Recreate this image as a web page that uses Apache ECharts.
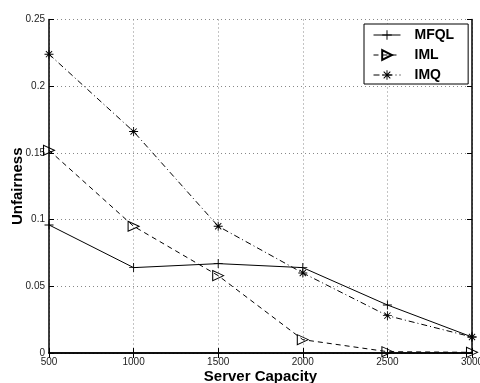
<!DOCTYPE html>
<html><head><meta charset="utf-8">
<script src="https://cdn.jsdelivr.net/npm/echarts@6/dist/echarts.min.js"></script>
<style>html,body{margin:0;padding:0;background:#fff}#c{width:480px;height:383px}</style>
</head><body><div id="c"></div>
<script>
const capacities = [500, 1000, 1500, 2000, 2500, 3000];
const mfql = [0.096, 0.064, 0.067, 0.064, 0.036, 0.012];
const iml  = [0.152, 0.095, 0.058, 0.010, 0.001, 0.0005];
const imq  = [0.224, 0.166, 0.095, 0.060, 0.028, 0.012];
const seriesNames = ['MFQL', 'IML', 'IMQ'];
const xTitle = 'Server Capacity';
const yTitle = 'Unfairness';

const FONT = '"Liberation Sans", Arial, Helvetica, sans-serif';
const plus = 'path://M0,4.5L10,4.5L10,5.5L0,5.5Z M4.5,0L5.5,0L5.5,10L4.5,10Z';
const star = 'path://M0,4.5L10,4.5L10,5.5L0,5.5Z M4.5,0L5.5,0L5.5,10L4.5,10Z M1.2,1.9L1.9,1.2L8.8,8.1L8.1,8.8Z M8.1,1.2L8.8,1.9L1.9,8.8L1.2,8.1Z';
const lineTypes = ['solid', [5,4], [6,3,1,3]];

function pts(arr){ return capacities.map((c,i)=>[c, arr[i]]); }

const chart = echarts.init(document.getElementById('c'), null, {renderer:'canvas'});
const tickStyle = {show:true, inside:true, length:5, lineStyle:{color:'#000', width:1}};
const lineAx = {show:true, lineStyle:{color:'#000', width:1.5}};
chart.setOption({
  animation:false,
  backgroundColor:'#fff',
  textStyle:{fontFamily:FONT},
  grid:{left:49, right:8, top:19.5, bottom:30, containLabel:false, outerBoundsMode:'none'},
  legend:{
    show:true, orient:'vertical', left:364, top:24,
    data:seriesNames.map((n,i)=>({name:n, lineStyle:{width:1, type:lineTypes[i], color:'#000'}})),
    backgroundColor:'#fff', borderColor:'#000', borderWidth:1,
    padding:[3,14,1,9], itemWidth:27, itemHeight:12, itemGap:4,
    lineStyle:{width:1},
    textStyle:{fontFamily:FONT, fontWeight:'bold', fontSize:14, lineHeight:16, color:'#000', padding:[0,0,0,9]},
    selectedMode:false
  },
  xAxis:[{
    type:'value', min:500, max:3000, interval:500, position:'bottom',
    name:xTitle, nameLocation:'middle', nameGap:16, nameMoveOverlap:false,
    nameTextStyle:{fontFamily:FONT, fontWeight:'bold', fontSize:15, color:'#000'},
    axisLine:lineAx, axisTick:tickStyle,
    axisLabel:{fontFamily:FONT, fontSize:10, color:'#222', margin:4, formatter:v=>String(v)},
    splitLine:{show:true, lineStyle:{color:'#888', width:1, type:[1,3]}}
  },{
    type:'value', min:500, max:3000, interval:500, position:'top',
    axisLine:lineAx, axisTick:tickStyle, axisLabel:{show:false}, splitLine:{show:false}
  }],
  yAxis:[{
    type:'value', min:0, max:0.25, interval:0.05, position:'left',
    name:yTitle, nameLocation:'middle', nameGap:24, nameMoveOverlap:false,
    nameTextStyle:{fontFamily:FONT, fontWeight:'bold', fontSize:15, color:'#000'},
    axisLine:lineAx, axisTick:tickStyle,
    axisLabel:{fontFamily:FONT, fontSize:10, color:'#222', margin:4},
    splitLine:{show:true, lineStyle:{color:'#888', width:1, type:[1,3]}}
  },{
    type:'value', min:0, max:0.25, interval:0.05, position:'right',
    axisLine:lineAx, axisTick:tickStyle, axisLabel:{show:false}, splitLine:{show:false}
  }],
  series:[
    {name:seriesNames[0], type:'line', data:pts(mfql), symbol:plus, symbolSize:9,
     lineStyle:{color:'#000', width:1, type:lineTypes[0]},
     itemStyle:{color:'#000', borderWidth:0}},
    {name:seriesNames[1], type:'line', data:pts(iml), symbol:'triangle', symbolRotate:-90, symbolSize:[10,11],
     lineStyle:{color:'#000', width:1, type:lineTypes[1]},
     itemStyle:{color:'rgba(255,255,255,0)', borderColor:'#000', borderWidth:1}},
    {name:seriesNames[2], type:'line', data:pts(imq), symbol:star, symbolSize:9,
     lineStyle:{color:'#000', width:1, type:lineTypes[2]},
     itemStyle:{color:'#000', borderWidth:0}}
  ]
});
</script></body></html>
